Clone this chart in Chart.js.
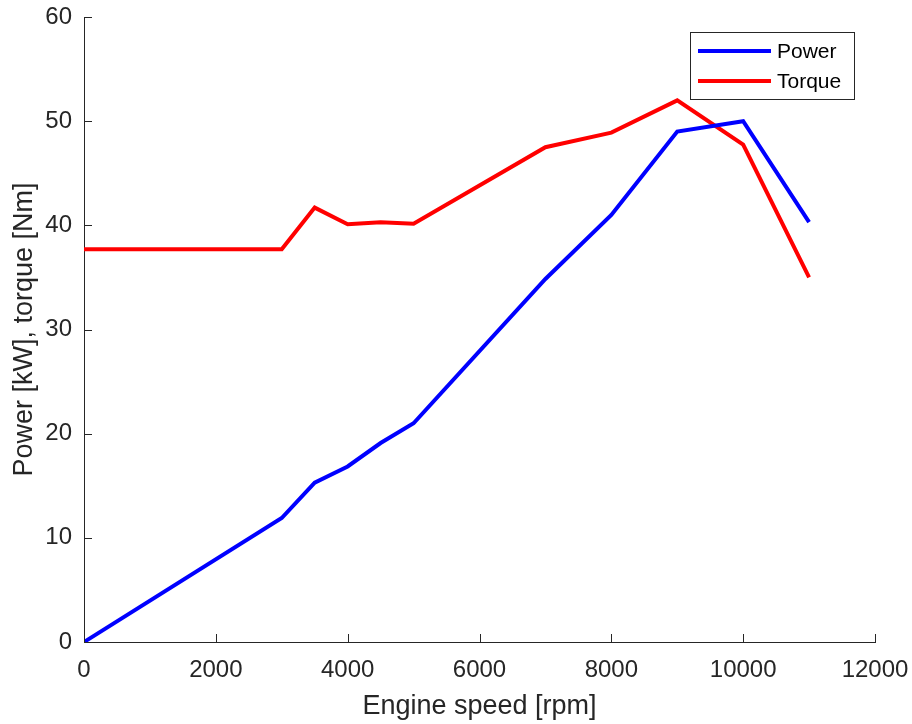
<!DOCTYPE html>
<html>
<head>
<meta charset="utf-8">
<title>Engine power and torque</title>
<script src="https://cdn.jsdelivr.net/npm/chart.js@4.4.1/dist/chart.umd.min.js"></script>
<style>
    html, body { margin: 0; padding: 0; background: #fff; }
    #wrap { width: 912px; height: 724px; }
</style>
</head>
<body>
<div id="wrap"><canvas id="engineChart" width="912" height="724"></canvas></div>
<script>
// Engine curve data
const speedRpm = [0, 3000, 3500, 4000, 4500, 5000, 7000, 8000, 9000, 10000, 11000];
const powerKw = [0, 11.9, 15.3, 16.85, 19.1, 21.0, 34.85, 41.0, 49.0, 50.0, 40.3];
const torqueNm = [37.7, 37.7, 41.7, 40.1, 40.3, 40.15, 47.5, 48.9, 52.0, 47.75, 35.0];
const xTicks = [0, 2000, 4000, 6000, 8000, 10000, 12000];
const yTicks = [0, 10, 20, 30, 40, 50, 60];

const FONT = "'Liberation Sans', Arial, Helvetica, sans-serif";
const AXIS_COLOR = "#262626";

function toPoints(xs, ys) {
    return xs.map((x, i) => ({ x: x, y: ys[i] }));
}

// inward tick marks, MATLAB style
const inwardTicks = {
    id: "inwardTicks",
    afterDraw(chart) {
        const { ctx, chartArea, scales } = chart;
        const len = 8;
        ctx.save();
        ctx.strokeStyle = AXIS_COLOR;
        ctx.lineWidth = 1;
        ctx.beginPath();
        xTicks.forEach(v => {
            const px = Math.round(scales.x.getPixelForValue(v)) + 0.5;
            ctx.moveTo(px, chartArea.bottom);
            ctx.lineTo(px, chartArea.bottom - len);
        });
        yTicks.forEach(v => {
            const py = Math.round(scales.y.getPixelForValue(v)) + 0.5;
            ctx.moveTo(chartArea.left, py);
            ctx.lineTo(chartArea.left + len, py);
        });
        ctx.stroke();
        ctx.restore();
    }
};

// boxed legend in the upper right of the plot
const boxLegend = {
    id: "boxLegend",
    afterDraw(chart) {
        const { ctx } = chart;
        const x0 = 690.5, y0 = 32.5, w = 164, h = 67;
        ctx.save();
        ctx.fillStyle = "#fff";
        ctx.fillRect(x0, y0, w, h);
        ctx.strokeStyle = AXIS_COLOR;
        ctx.lineWidth = 1;
        ctx.strokeRect(x0, y0, w, h);
        ctx.font = "21px " + FONT;
        ctx.textBaseline = "middle";
        ctx.textAlign = "left";
        chart.data.datasets.forEach((ds, i) => {
            const ly = 51 + i * 30;
            ctx.strokeStyle = ds.borderColor;
            ctx.lineWidth = 4;
            ctx.beginPath();
            ctx.moveTo(698, ly);
            ctx.lineTo(771, ly);
            ctx.stroke();
            ctx.fillStyle = "#000";
            ctx.fillText(ds.label, 777, ly + 1);
        });
        ctx.restore();
    }
};

new Chart(document.getElementById("engineChart"), {
    type: "line",
    data: {
        datasets: [
            {
                label: "Power",
                data: toPoints(speedRpm, powerKw),
                borderColor: "#0000ff",
                borderWidth: 4,
                pointRadius: 0,
                tension: 0,
                borderJoinStyle: "miter",
                borderCapStyle: "butt"
            },
            {
                label: "Torque",
                data: toPoints(speedRpm, torqueNm),
                borderColor: "#ff0000",
                borderWidth: 4,
                pointRadius: 0,
                tension: 0,
                borderJoinStyle: "miter",
                borderCapStyle: "butt"
            }
        ]
    },
    options: {
        responsive: false,
        animation: false,
        devicePixelRatio: 1,
        layout: {
            padding: { top: 17, right: 37, left: 0, bottom: 0 }
        },
        plugins: {
            legend: { display: false },
            tooltip: { enabled: false }
        },
        scales: {
            x: {
                type: "linear",
                min: 0,
                max: 12000,
                afterBuildTicks: scale => { scale.ticks = xTicks.map(v => ({ value: v })); },
                afterFit: scale => {
                    scale.height = 82;
                    scale.paddingLeft = 0;
                    scale.paddingRight = 0;
                },
                grid: { display: false, drawTicks: false },
                border: { display: true, color: AXIS_COLOR, width: 1 },
                ticks: {
                    color: AXIS_COLOR,
                    font: { family: FONT, size: 24 },
                    padding: 14,
                    maxRotation: 0,
                    callback: v => String(v)
                },
                title: {
                    display: true,
                    text: "Engine speed [rpm]",
                    color: AXIS_COLOR,
                    font: { family: FONT, size: 27 },
                    padding: { top: 0, bottom: 1 }
                }
            },
            y: {
                type: "linear",
                min: 0,
                max: 60,
                afterBuildTicks: scale => { scale.ticks = yTicks.map(v => ({ value: v })); },
                afterFit: scale => {
                    scale.width = 84;
                    scale.paddingTop = 0;
                    scale.paddingBottom = 0;
                },
                grid: { display: false, drawTicks: false },
                border: { display: true, color: AXIS_COLOR, width: 1 },
                ticks: {
                    color: AXIS_COLOR,
                    font: { family: FONT, size: 24 },
                    padding: 12,
                    callback: v => String(v)
                },
                title: {
                    display: true,
                    text: "Power [kW], torque [Nm]",
                    color: AXIS_COLOR,
                    font: { family: FONT, size: 27 },
                    padding: { top: 8, bottom: 0 }
                }
            }
        }
    },
    plugins: [inwardTicks, boxLegend]
});
</script>
</body>
</html>
